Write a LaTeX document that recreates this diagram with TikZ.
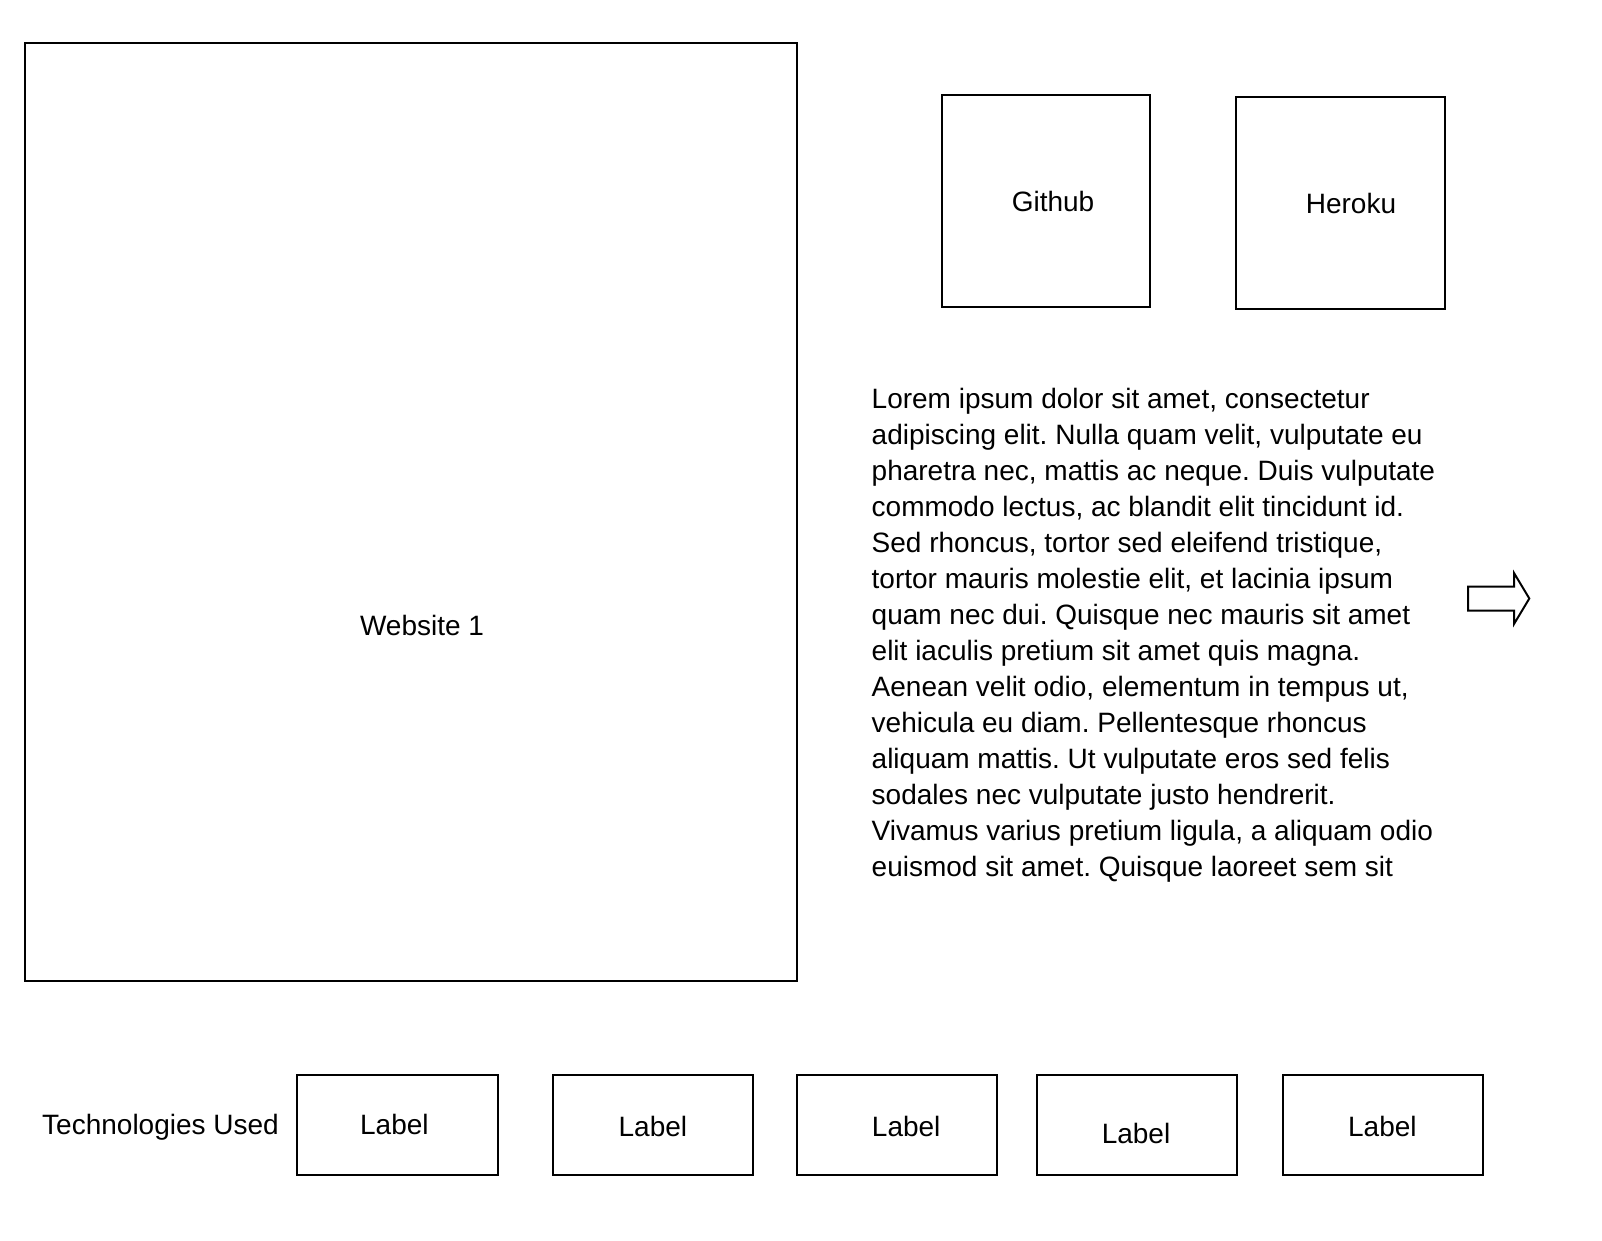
\documentclass[tikz,border=0pt]{standalone}
\usepackage{fontspec}
\setmainfont{Liberation Sans}
\frenchspacing
\begin{document}
\begin{tikzpicture}[x=1pt,y=-1pt,
  box/.style={draw=black,line width=2pt,inner sep=0pt,fill=none},
  txt/.style={inner sep=0pt,font=\fontsize{28}{36}\selectfont},
  arrowshape/.style={draw=black,line width=2pt,line join=miter},
]
\useasboundingbox (0,0) rectangle (1602,1240);
% main website box
\node[box,minimum width=772.5pt,minimum height=938pt] (web) at (410.75,512) {};
\node[txt] (webtxt) at (422,625) {Website 1};
% Github / Heroku
\node[box,minimum width=208pt,minimum height=211.5pt] (github) at (1046,200.75) {};
\node[txt] (githubtxt) at (1053,201) {Github};
\node[box,minimum width=209pt,minimum height=211.5pt] (heroku) at (1340.5,202.75) {};
\node[txt] (herokutxt) at (1351,203) {Heroku};
% paragraph
\node[txt,anchor=north west,align=left] (para) at (871.5,387.5) {%
Lorem ipsum dolor sit amet, consectetur\\
adipiscing elit. Nulla quam velit, vulputate eu\\
pharetra nec, mattis ac neque. Duis vulputate\\
commodo lectus, ac blandit elit tincidunt id.\\
Sed rhoncus, tortor sed eleifend tristique,\\
tortor mauris molestie elit, et lacinia ipsum\\
quam nec dui. Quisque nec mauris sit amet\\
elit iaculis pretium sit amet quis magna.\\
Aenean velit odio, elementum in tempus ut,\\
vehicula eu diam. Pellentesque rhoncus\\
aliquam mattis. Ut vulputate eros sed felis\\
sodales nec vulputate justo hendrerit.\\
Vivamus varius pretium ligula, a aliquam odio\\
euismod sit amet. Quisque laoreet sem sit};
% arrow
\draw[arrowshape] (1468,586.7) -- (1514,586.7) -- (1514,573) -- (1529.3,598.5)
  -- (1514,624) -- (1514,610.7) -- (1468,610.7) -- cycle;
% bottom row
\node[txt] (tech) at (160.5,1127) {Technologies Used};
\node[box,minimum width=200.3pt,minimum height=100pt] (l1) at (397.5,1125) {};
\node[txt] (l1t) at (394.4,1124) {Label};
\node[box,minimum width=200.3pt,minimum height=100pt] (l2) at (652.9,1125) {};
\node[txt] (l2t) at (652.9,1126) {Label};
\node[box,minimum width=200.3pt,minimum height=100pt] (l3) at (897,1125) {};
\node[txt] (l3t) at (906.2,1126) {Label};
\node[box,minimum width=200.3pt,minimum height=100pt] (l4) at (1137,1125) {};
\node[txt] (l4t) at (1136,1133) {Label};
\node[box,minimum width=200.3pt,minimum height=100pt] (l5) at (1383,1125) {};
\node[txt] (l5t) at (1382.4,1126) {Label};
\end{tikzpicture}
\end{document}
